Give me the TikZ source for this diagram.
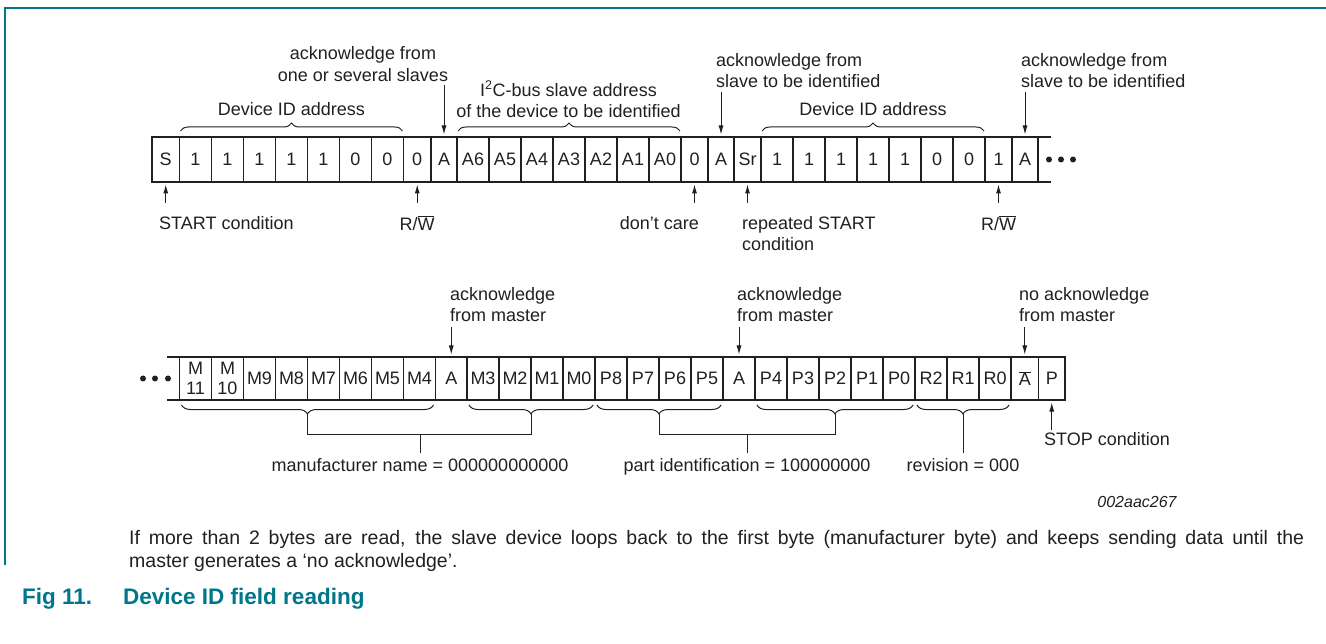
\documentclass[tikz,border=0pt]{standalone}
\usepackage{fontspec}
\setmainfont{Liberation Sans}
\usetikzlibrary{decorations.pathreplacing,arrows.meta,calc}
\definecolor{nxpteal}{HTML}{00768A}
\definecolor{ink}{HTML}{231F20}
\newcommand\lblfont{\fontsize{18}{21.6}\selectfont}
\newcommand\bodyfont{\fontsize{19.5}{23}\selectfont}
\newcommand\capfont{\fontsize{22.5}{26}\selectfont\bfseries}
\newcommand\idfont{\fontsize{16}{19}\selectfont\itshape}
\begin{document}
\begin{tikzpicture}[x=1pt,y=-1pt,
  cell/.style={draw=ink, line width=1.6pt, inner sep=0pt, outer sep=0pt, align=center, font=\lblfont, text=ink},
  tcell/.style={cell, minimum height=45pt},
  bcell/.style={cell, minimum height=43pt},
  rowline/.style={draw=ink, line width=1.6pt},
  lbl/.style={font=\lblfont, text=ink, inner sep=0pt},
  vlbl/.style={lbl, anchor=north, inner ysep=5pt},
  arr/.style={draw=ink, line width=1pt, -{Latex[length=9pt,width=5pt]}, shorten >=2.5pt},
  ln/.style={draw=ink, line width=1pt},
  brc/.style={draw=ink, line width=1pt, decorate, decoration={brace, amplitude=8pt}},
  brcb/.style={draw=ink, line width=1pt, decorate, decoration={brace, amplitude=9pt, mirror}},
  dot/.style={fill=ink}
]
\useasboundingbox (0,0) rectangle (1326,644);
% frame
\draw[nxpteal, line width=1.5pt] (5,565) -- (5,8) -- (1326,8);

% top row
\foreach \l/\r/\t/\n in {152/179.5/S/t1, 179.5/211.5/1/t2, 211.5/243.5/1/t3, 243.5/275.5/1/t4,
  275.5/307.5/1/t5, 307.5/339.5/1/t6, 339.5/371.5/0/t7, 371.5/403.5/0/t8, 403.5/431/0/t9,
  431/457/A/t10, 457/489/A6/t11, 489/521/A5/t12, 521/553/A4/t13, 553/585/A3/t14,
  585/617/A2/t15, 617/649/A1/t16, 649/681/A0/t17, 681/708/0/t18, 708/734/A/t19,
  734/761/Sr/t20, 761/793/1/t21, 793/825/1/t22, 825/857/1/t23, 857/889/1/t24,
  889/921/1/t25, 921/953/0/t26, 953/985/0/t27, 985/1012/1/t28, 1012/1038/A/t29}
  {\node[tcell, minimum width={(\r-\l)*1pt}] (\n) at ({(\l+\r)/2},159.5) {\t};}
\draw[rowline] (t29.north east) -- ++(13,0);
\draw[rowline] (t29.south east) -- ++(13,0);
\foreach \x in {1049,1061,1073} \fill[dot] (\x,159.5) circle (3pt);

% bottom row
\foreach \l/\r/\t/\n in {179.5/211.5/{M\\[-2pt]11}/b1, 211.5/243.5/{M\\[-2pt]10}/b2,
  243.5/275.5/M9/b3, 275.5/307.5/M8/b4, 307.5/339.5/M7/b5, 339.5/371.5/M6/b6,
  371.5/403.5/M5/b7, 403.5/435.5/M4/b8, 435.5/467/A/b9, 467/499/M3/b10, 499/531/M2/b11,
  531/563/M1/b12, 563/595/M0/b13, 595/627/P8/b14, 627/659/P7/b15, 659/691/P6/b16,
  691/723/P5/b17, 723/755/A/b18, 755/787/P4/b19, 787/819/P3/b20, 819/851/P2/b21,
  851/883/P1/b22, 883/915/P0/b23, 915/947/R2/b24, 947/979/R1/b25, 979/1011/R0/b26,
  1011/1038.5/{$\overline{\hbox{A}}$}/b27, 1038.5/1065/P/b28}
  {\node[bcell, minimum width={(\r-\l)*1pt}] (\n) at ({(\l+\r)/2},378.5) {\t};}
\draw[rowline] (b1.north west) -- ++(-13,0);
\draw[rowline] (b1.south west) -- ++(-13,0);
\foreach \x in {143,155,168} \fill[dot] (\x,378.5) circle (3pt);

% top labels
\node[lbl, align=center] (ackA) at (363,64.3) {acknowledge from\\one or several slaves};
\draw[arr] ([yshift=52pt]t10.north) -- (t10.north);
\node[lbl] (devA) at (291.5,109) {Device ID address};
\draw[brc] ([xshift=1pt,yshift=6pt]t2.north west) -- ([xshift=-1pt,yshift=6pt]t8.north east);
\node[lbl, align=center] (i2c) at (568.5,99.5) {I\textsuperscript{2}C-bus slave address\\of the device to be identified};
\draw[brc] ([xshift=1pt,yshift=6pt]t11.north west) -- ([xshift=-1pt,yshift=6pt]t17.north east);
\node[lbl, anchor=west, align=left] (ackB) at (716,70.6) {acknowledge from\\slave to be identified};
\draw[arr] ([yshift=45pt]t19.north) -- (t19.north);
\node[lbl] (devB) at (873,109) {Device ID address};
\draw[brc] ([xshift=1pt,yshift=6pt]t21.north west) -- ([xshift=-1pt,yshift=6pt]t27.north east);
\node[lbl, anchor=west, align=left] (ackC) at (1021,70.6) {acknowledge from\\slave to be identified};
\draw[arr] ([yshift=45pt]t29.north) -- (t29.north);

% below top row
\node[lbl, anchor=west] (startc) at (159,223) {START condition};
\draw[arr] ([yshift=-21pt]t1.south) -- (t1.south);
\node[lbl] (rw1) at (417,223) {R/$\overline{\hbox{W}}$};
\draw[arr] ([yshift=-21pt]t9.south) -- (t9.south);
\node[lbl, anchor=east] (dc) at (699,223) {don’t care};
\draw[arr] ([yshift=-21pt]t18.south) -- (t18.south);
\node[lbl, anchor=west, align=left] (rep) at (742,233.75) {repeated START\\condition};
\draw[arr] ([yshift=-21pt]t20.south) -- (t20.south);
\node[lbl] (rw2) at (998.5,223) {R/$\overline{\hbox{W}}$};
\draw[arr] ([yshift=-21pt]t28.south) -- (t28.south);

% bottom labels
\node[lbl, anchor=west, align=left] (ackD) at (450,304.5) {acknowledge\\from master};
\draw[arr] ([yshift=30pt]b9.north) -- (b9.north);
\node[lbl, anchor=west, align=left] (ackE) at (737,304.5) {acknowledge\\from master};
\draw[arr] ([yshift=30pt]b18.north) -- (b18.north);
\node[lbl, anchor=west, align=left] (noack) at (1019,304.5) {no acknowledge\\from master};
\draw[arr] ([yshift=30pt]b27.north) -- (b27.north);
\node[lbl, anchor=west] (stop) at (1044,439) {STOP condition};
\draw[arr] ([yshift=-30pt]b28.south) -- (b28.south);

% bottom braces
\draw[brcb] ([xshift=2pt,yshift=-5pt]b1.south west) -- ([xshift=-2pt,yshift=-5pt]b8.south east);
\draw[brcb] ([xshift=2pt,yshift=-5pt]b10.south west) -- ([xshift=-2pt,yshift=-5pt]b13.south east);
\draw[brcb] ([xshift=2pt,yshift=-5pt]b14.south west) -- ([xshift=-2pt,yshift=-5pt]b17.south east);
\draw[brcb] ([xshift=2pt,yshift=-5pt]b19.south west) -- ([xshift=-2pt,yshift=-5pt]b23.south east);
\draw[brcb] ([xshift=2pt,yshift=-5pt]b24.south west) -- ([xshift=-2pt,yshift=-5pt]b26.south east);
\coordinate (m1) at ($(b1.south west)!0.5!(b8.south east)+(0,14)$);
\coordinate (m2) at ($(b10.south west)!0.5!(b13.south east)+(0,14)$);
\coordinate (p1) at ($(b14.south west)!0.5!(b17.south east)+(0,14)$);
\coordinate (p2) at ($(b19.south west)!0.5!(b23.south east)+(0,14)$);
\coordinate (r1) at ($(b24.south west)!0.5!(b26.south east)+(0,14)$);
\draw[ln] (m1) -- ++(0,20) -| (m2);
\draw[ln] (p1) -- ++(0,20) -| (p2);
\coordinate (mj) at (420,434);
\coordinate (pj) at (747,434);
\node[vlbl] (mname) at (420,453) {manufacturer name = 000000000000};
\node[vlbl] (pname) at (747,453) {part identification = 100000000};
\node[vlbl] (rname) at (963,453) {revision = 000};
\draw[ln] (mj) -- (mname.north);
\draw[ln] (pj) -- (pname.north);
\draw[ln] (r1) -- (rname.north);

% id
\node[lbl, font=\idfont] (docid) at (1137,502) {002aac267};

% caption
\node[lbl, font=\bodyfont, anchor=base west] (body1) at (129,544) {\makebox[1175pt][s]{If more than 2 bytes are read, the slave device loops back to the first byte (manufacturer byte) and keeps sending data until the}};
\node[lbl, font=\bodyfont, anchor=base west] (body2) at (129,567) {master generates a ‘no acknowledge’.};
\node[lbl, font=\capfont, text=nxpteal, anchor=base west] (fig) at (22,604) {Fig 11.};
\node[lbl, font=\capfont, text=nxpteal, anchor=base west] (figt) at (123,604) {Device ID field reading};
\end{tikzpicture}
\end{document}
